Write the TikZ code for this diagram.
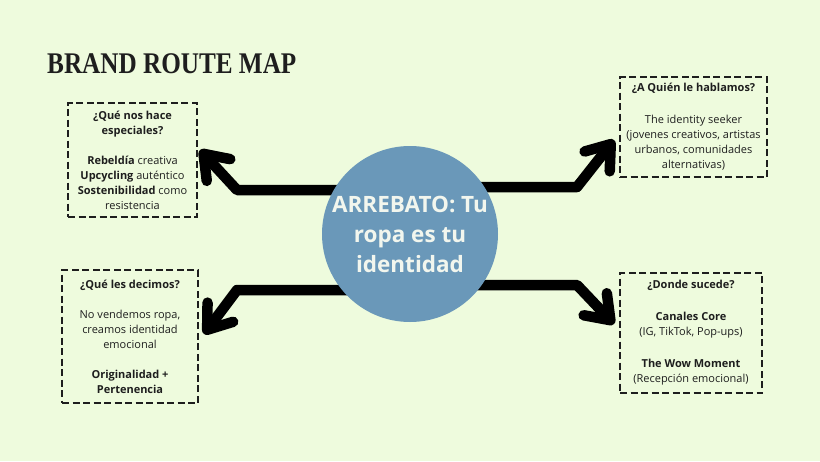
\documentclass[tikz,border=0pt]{standalone}
\usepackage{fontspec}
\usepackage{graphicx}
\setmainfont{Open Sans}
\newfontfamily\titlefont{Liberation Serif}
\usetikzlibrary{arrows.meta}
\definecolor{bgcol}{HTML}{EEFBDD}
\definecolor{circcol}{HTML}{6A98B9}
\definecolor{inkcol}{HTML}{1E1E1E}
\definecolor{circtext}{HTML}{F2F6EE}
\tikzset{
  infobox/.style={draw=inkcol, line width=1.5pt, dash pattern=on 7pt off 3.5pt,
    align=center, inner sep=0pt, text=inkcol,
    font=\fontsize{11}{15}\selectfont},
  bigarrow/.style={line width=10.5pt, draw=black, line join=round, line cap=round,
    -{Straight Barb[length=22pt, width=32pt, round]}},
}
\begin{document}
\begin{tikzpicture}[x=1pt,y=-1pt]
\fill[bgcol] (0,0) rectangle (820,461);
\useasboundingbox (0,0) rectangle (820,461);

\node[anchor=base west, inner sep=0pt, text=inkcol] (title) at (47,73)
  {\scalebox{0.84}[1]{\titlefont\bfseries\fontsize{30}{30}\selectfont BRAND ROUTE MAP}};

% boxes
\node[infobox, minimum width=129pt, minimum height=114pt] (b1) at (132.5,160)
  {\textbf{¿Qué nos hace}\\\textbf{especiales?}\\[15pt]
   \textbf{Rebeldía} creativa\\\textbf{Upcycling} auténtico\\
   \textbf{Sostenibilidad} como\\resistencia};
\node[infobox, minimum width=147pt, minimum height=100pt] (b2) at (693.5,127)
  {\textbf{¿A Quién le hablamos?}\\[17pt]
   The identity seeker\\(jovenes creativos, artistas\\urbanos, comunidades\\alternativas)};
\node[infobox, minimum width=136pt, minimum height=133pt] (b3) at (130,336.5)
  {\textbf{¿Qué les decimos?}\\[15pt]
   No vendemos ropa,\\creamos identidad\\emocional\\[15pt]
   \textbf{Originalidad +}\\\textbf{Pertenencia}};
\node[infobox, minimum width=142pt, minimum height=120pt] (b4) at (691,333)
  {\textbf{¿Donde sucede?}\\[17pt]
   \textbf{Canales Core}\\(IG, TikTok, Pop-ups)\\[17pt]
   \textbf{The Wow Moment}\\(Recepción emocional)};

% arrow coordinates
\coordinate (s1) at (350,190); \coordinate (k1) at (237,190); \coordinate (t1) at (200,150);
\coordinate (s2) at (470,187); \coordinate (k2) at (577,187); \coordinate (t2) at (614,140);
\coordinate (s3) at (350,290); \coordinate (k3) at (237,290); \coordinate (t3) at (204,334);
\coordinate (s4) at (470,285); \coordinate (k4) at (577,285); \coordinate (t4) at (614,324);

\draw[bigarrow] (s1) -- (k1) -- (t1);
\draw[bigarrow] (s2) -- (k2) -- (t2);
\draw[bigarrow] (s3) -- (k3) -- (t3);
\draw[bigarrow] (s4) -- (k4) -- (t4);

\node[circle, fill=circcol, minimum size=176pt, inner sep=0pt, align=center,
  text=circtext, font=\bfseries\fontsize{22.5}{30}\selectfont] (c) at (410,234)
  {ARREBATO: Tu\\ropa es tu\\identidad};
\end{tikzpicture}
\end{document}
